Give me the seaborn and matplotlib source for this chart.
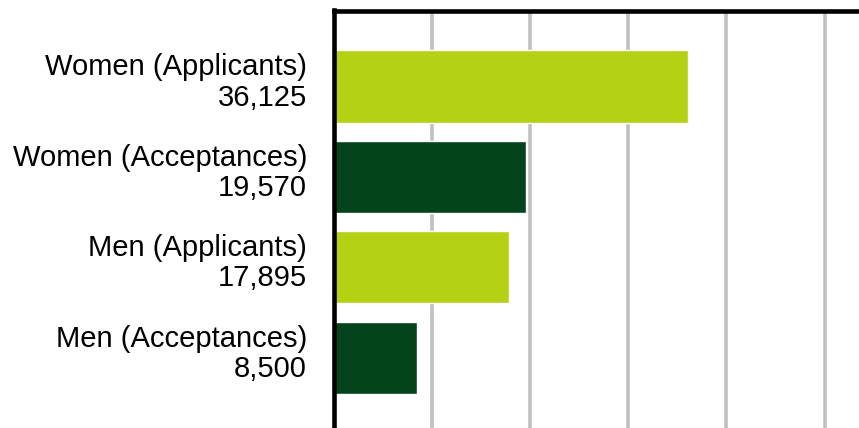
import matplotlib
matplotlib.use("Agg")
import matplotlib.pyplot as plt
import matplotlib.transforms as mtransforms
import seaborn as sns

groups = ["Women (Applicants)", "Women (Acceptances)", "Men (Applicants)", "Men (Acceptances)"]
counts = [36125, 19570, 17895, 8500]
bar_colors = ["#B5D114", "#03441D", "#B5D114", "#03441D"]
grid_ticks = [0, 10000, 20000, 30000, 40000, 50000, 60000]

sns.set_style("white")
plt.rcParams["font.family"] = ["Liberation Sans", "DejaVu Sans"]

fig = plt.figure(figsize=(8.59, 4.28), dpi=100)
ax = fig.add_axes([333.5 / 859, 0.0, 589.2 / 859, 1 - 10.5 / 428])

sns.barplot(x=counts, y=groups, hue=groups, palette=bar_colors, saturation=1,
            orient="h", width=0.8, legend=False, ax=ax)

ax.set_xlim(0, 60000)
ax.set_ylim(3.776, -0.838)
ax.set_xticks(grid_ticks)
ax.set_xticklabels([])
ax.set_yticks(range(len(groups)))
ax.set_yticklabels([f"{g}\n{c:,}" for g, c in zip(groups, counts)],
                   fontsize=21, linespacing=1.1, color="black")
ax.tick_params(axis="y", length=0, pad=19)
ax.tick_params(axis="x", length=0)

# lift the labels a little above the bar centres
shift = mtransforms.ScaledTranslation(0, 8 / 100, fig.dpi_scale_trans)
for lbl in ax.get_yticklabels():
    lbl.set_transform(lbl.get_transform() + shift)

ax.grid(axis="x", color="#C0C0C0", linewidth=2.6)
ax.grid(axis="y", visible=False)
ax.set_axisbelow(True)

for side in ["bottom", "right"]:
    ax.spines[side].set_visible(False)
for side in ["left", "top"]:
    ax.spines[side].set_color("black")
    ax.spines[side].set_linewidth(3.3)

ax.set_xlabel("")
ax.set_ylabel("")

fig.savefig("out.png", dpi=100)
